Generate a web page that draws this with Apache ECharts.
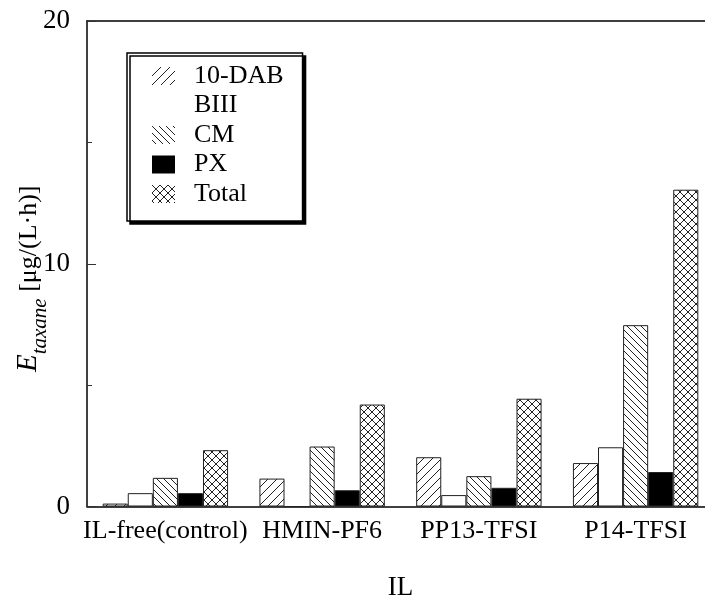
<!DOCTYPE html>
<html>
<head>
<meta charset="utf-8">
<script src="https://cdn.jsdelivr.net/npm/echarts@6/dist/echarts.min.js"></script>
<style>
  html, body { margin: 0; padding: 0; background: #fff; }
  #chart { width: 705px; height: 596px; }
</style>
</head>
<body>
<div id="chart"></div>
<script>
var categories = ['IL-free(control)', 'HMIN-PF6', 'PP13-TFSI', 'P14-TFSI'];
var seriesNames = ['10-DAB', 'BIII', 'CM', 'PX', 'Total'];
var dab10 = [0.12, 1.15, 2.03, 1.79];
var biii = [0.55, 0, 0.47, 2.44];
var cm = [1.18, 2.47, 1.25, 7.47];
var px = [0.55, 0.67, 0.77, 1.42];
var total = [2.32, 4.2, 4.44, 13.05];
var yTicks = [0, 10, 20];

var FONT = '"Liberation Serif", "DejaVu Serif", serif';

// hatch patterns drawn on small canvases
function hatch(kind, s) {
    var c = document.createElement('canvas');
    c.width = s; c.height = s;
    var g = c.getContext('2d');
    g.fillStyle = '#fff';
    g.fillRect(0, 0, s, s);
    g.strokeStyle = '#222';
    g.lineWidth = 1;
    g.beginPath();
    if (kind === '/' || kind === 'x') {
        g.moveTo(0, s); g.lineTo(s, 0);
        g.moveTo(-1, 1); g.lineTo(1, -1);
        g.moveTo(s - 1, s + 1); g.lineTo(s + 1, s - 1);
    }
    if (kind === '\\' || kind === 'x') {
        g.moveTo(0, 0); g.lineTo(s, s);
        g.moveTo(-1, s - 1); g.lineTo(1, s + 1);
        g.moveTo(s - 1, -1); g.lineTo(s + 1, 1);
    }
    g.stroke();
    return { image: c, repeat: 'repeat' };
}

var fills = [hatch('/', 9), '#fff', hatch('\\', 7), '#000', hatch('x', 8)];
var values = [dab10, biii, cm, px, total];

var chart = echarts.init(document.getElementById('chart'));

var series = seriesNames.map(function (name, i) {
    return {
        name: name,
        type: 'bar',
        barGap: '0%',
        barCategoryGap: '20%',
        itemStyle: {
            color: fills[i],
            borderColor: '#222',
            borderWidth: 1
        },
        data: values[i]
    };
});

var option = {
    animation: false,
    textStyle: { fontFamily: FONT, color: '#000' },
    grid: {
        left: 87,
        right: -9,
        top: 21,
        bottom: 89.5,
        containLabel: false,
        outerBoundsMode: 'none'
    },
    legend: {
        orient: 'vertical',
        left: 127,
        top: 53,
        data: seriesNames,
        icon: 'rect',
        itemWidth: 23,
        itemHeight: 18,
        itemGap: 3.5,
        padding: [10, 19, 14, 25],
        backgroundColor: '#fff',
        borderColor: '#000',
        borderWidth: 1.5,
        shadowColor: '#000',
        shadowBlur: 0,
        shadowOffsetX: 3,
        shadowOffsetY: 3,
        itemStyle: { borderWidth: 0 },
        textStyle: {
            fontFamily: FONT,
            fontSize: 26,
            color: '#000',
            padding: [0, 0, 0, 14]
        }
    },
    xAxis: [
        {
            type: 'category',
            data: categories,
            name: 'IL',
            nameLocation: 'middle',
            nameGap: 68,
            nameTextStyle: { fontFamily: FONT, fontSize: 27, color: '#000' },
            axisLine: { lineStyle: { color: '#000', width: 1.5 } },
            axisTick: { inside: true, length: 8, lineStyle: { color: '#555' } },
            axisLabel: { interval: 0, hideOverlap: false, fontFamily: FONT, fontSize: 26, color: '#000', margin: 12 }
        },
        {
            type: 'category',
            data: categories,
            position: 'top',
            axisLine: { lineStyle: { color: '#000', width: 1.5 } },
            axisTick: { inside: true, length: 8, lineStyle: { color: '#555' } },
            axisLabel: { show: false }
        }
    ],
    yAxis: {
        type: 'value',
        min: yTicks[0],
        max: yTicks[yTicks.length - 1],
        interval: 10,
        name: '{e|E}{s|taxane}{u| [μg/(L·h)]}',
        nameLocation: 'middle',
        nameRotate: 90,
        nameGap: 36,
        nameMoveOverlap: false,
        nameTextStyle: {
            fontFamily: FONT,
            color: '#000',
            rich: {
                e: { fontFamily: FONT, fontStyle: 'italic', fontSize: 29, color: '#000', verticalAlign: 'top' },
                s: { fontFamily: FONT, fontStyle: 'italic', fontSize: 21, color: '#000', verticalAlign: 'top', padding: [16, 0, 0, 0] },
                u: { fontFamily: FONT, fontSize: 26, color: '#000', verticalAlign: 'top', padding: [2, 30, 0, 0] }
            }
        },
        axisLine: { show: true, lineStyle: { color: '#000', width: 1.5 } },
        axisTick: { show: true, inside: true, length: 9, lineStyle: { color: '#333' } },
        minorTick: { show: true, splitNumber: 2, length: 5, lineStyle: { color: '#333' } },
        splitLine: { show: false },
        axisLabel: { fontFamily: FONT, fontSize: 27, color: '#000', margin: 17 }
    },
    series: series
};
chart.setOption(option);
</script>
</body>
</html>
